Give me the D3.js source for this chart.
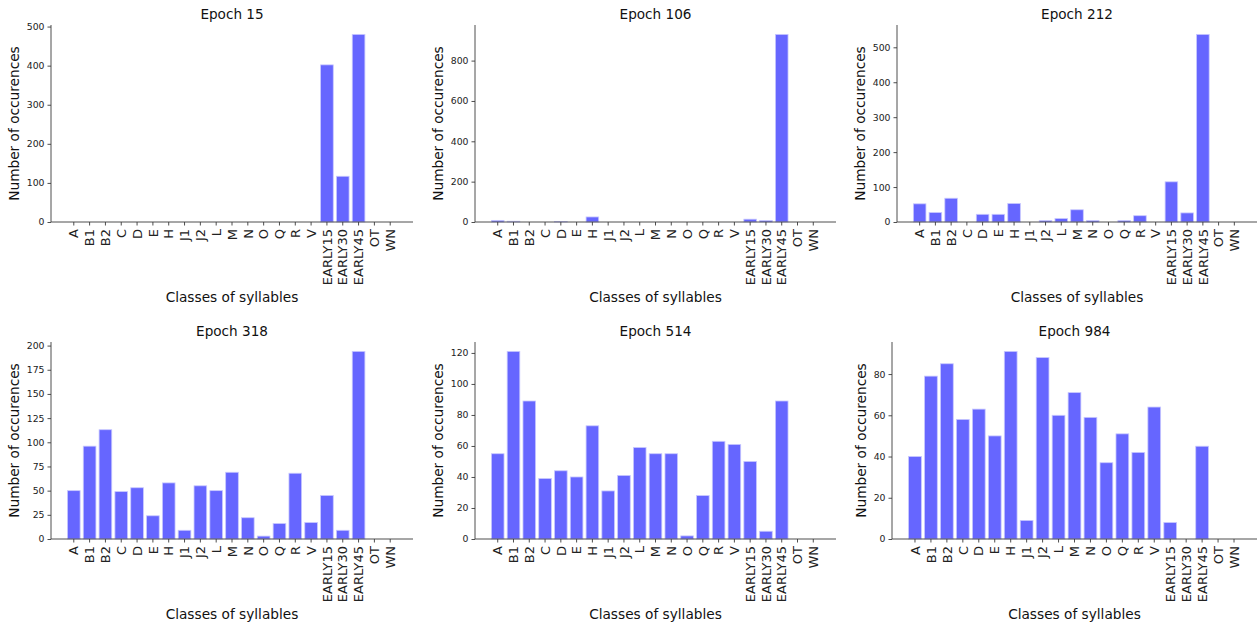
<!DOCTYPE html>
<html>
<head>
<meta charset="utf-8">
<script src="https://cdn.jsdelivr.net/npm/d3@7"></script>
<style>
  html, body { margin: 0; padding: 0; background: #fff; }
  svg { display: block; font-family: "DejaVu Sans", sans-serif; }
</style>
</head>
<body>
<svg id="chart" width="1257" height="624"></svg>
<script>
// Syllable classes shown on every panel's x axis
const classes = ["A", "B1", "B2", "C", "D", "E", "H", "J1", "J2", "L", "M", "N", "O", "Q", "R", "V",
                 "EARLY15", "EARLY30", "EARLY45", "OT", "WN"];

// Occurrence counts per class, one array per training epoch
const epoch15  = [0, 0, 0, 0, 0, 0, 0, 0, 0, 0, 0, 0, 0, 0, 0, 0, 402, 117, 480, 0, 0];
const epoch106 = [8, 4, 0, 0, 3, 0, 25, 0, 0, 0, 0, 0, 0, 0, 0, 0, 14, 7, 930, 0, 0];
const epoch212 = [52, 27, 68, 0, 22, 22, 53, 0, 4, 10, 35, 4, 0, 4, 18, 0, 115, 26, 537, 0, 0];
const epoch318 = [50, 96, 113, 49, 53, 24, 58, 9, 55, 50, 69, 22, 3, 16, 68, 17, 45, 9, 194, 0, 0];
const epoch514 = [55, 121, 89, 39, 44, 40, 73, 31, 41, 59, 55, 55, 2, 28, 63, 61, 50, 5, 89, 0, 0];
const epoch984 = [40, 79, 85, 58, 63, 50, 91, 9, 88, 60, 71, 59, 37, 51, 42, 64, 8, 0, 45, 0, 0];

// Y tick values for each panel
const ticks15  = [0, 100, 200, 300, 400, 500];
const ticks106 = [0, 200, 400, 600, 800];
const ticks212 = [0, 100, 200, 300, 400, 500];
const ticks318 = [0, 25, 50, 75, 100, 125, 150, 175, 200];
const ticks514 = [0, 20, 40, 60, 80, 100, 120];
const ticks984 = [0, 20, 40, 60, 80];

const panelTitles = ["Epoch 15", "Epoch 106", "Epoch 212", "Epoch 318", "Epoch 514", "Epoch 984"];
const panelValues = [epoch15, epoch106, epoch212, epoch318, epoch514, epoch984];
const panelTicks  = [ticks15, ticks106, ticks212, ticks318, ticks514, ticks984];

// Plot-area frames (left, right, top, bottom) in the 3x2 grid
const frames = [
  [51, 413, 25, 222], [475, 836, 25, 222], [897, 1257, 25, 222],
  [51, 413, 342, 539], [475, 836, 342, 539], [892, 1257, 342, 539]
];

const svg = d3.select("#chart");
const barFill = "#6666ff";
const barEdge = "#c8c8ff";
const spine = "#3a3a3a";

panelValues.forEach((values, i) => {
  const [x0, x1, y0, y1] = frames[i];
  const g = svg.append("g");

  // band scale: bar width 0.8 of a step, outer margin as in a 5% padded data range
  const x = d3.scaleBand().domain(classes).range([x0, x1])
    .paddingInner(0.2).paddingOuter(1.04);
  const y = d3.scaleLinear().domain([0, d3.max(values) * 1.05]).range([y1, y0]);

  // bars
  g.selectAll("rect.bar").data(values).join("rect")
    .attr("class", "bar")
    .attr("x", (d, k) => x(classes[k]))
    .attr("width", x.bandwidth())
    .attr("y", d => y(d))
    .attr("height", d => y1 - y(d))
    .attr("fill", barFill)
    .attr("stroke", d => d > 0 ? barEdge : "none")
    .attr("stroke-width", 0.8);

  // y axis
  const yAxis = g.append("g")
    .attr("transform", `translate(${x0},0)`)
    .call(d3.axisLeft(y).tickValues(panelTicks[i]).tickFormat(d3.format("d"))
      .tickSize(3.5).tickPadding(3));
  yAxis.select(".domain").attr("stroke", spine).attr("stroke-width", 0.9)
    .attr("d", `M0,${y1}V${y0}`);
  yAxis.selectAll(".tick line").attr("stroke", spine).attr("stroke-width", 0.9);
  yAxis.selectAll(".tick text").attr("fill", "#222").style("font-size", "9.3px")
    .style("font-family", "DejaVu Sans");

  // x axis with vertical class labels
  const xAxis = g.append("g")
    .attr("transform", `translate(0,${y1})`)
    .call(d3.axisBottom(x).tickSize(3.5).tickPadding(3.5));
  xAxis.select(".domain").attr("stroke", spine).attr("stroke-width", 0.9)
    .attr("d", `M${x0},0H${x1}`);
  xAxis.selectAll(".tick line").attr("stroke", spine).attr("stroke-width", 0.9);
  xAxis.selectAll(".tick text")
    .attr("fill", "#222")
    .style("font-size", "13px")
    .style("font-family", "DejaVu Sans")
    .attr("text-anchor", "end")
    .attr("transform", "rotate(-90)")
    .attr("x", -7)
    .attr("y", 0)
    .attr("dy", "0.36em");

  // title
  g.append("text")
    .attr("x", (x0 + x1) / 2).attr("y", y0 - 6)
    .attr("text-anchor", "middle")
    .style("font-size", "13.6px").attr("fill", "#111")
    .text(panelTitles[i]);

  // x axis title
  g.append("text")
    .attr("x", (x0 + x1) / 2).attr("y", y1 + 80)
    .attr("text-anchor", "middle")
    .style("font-size", "13.7px").attr("fill", "#111")
    .text("Classes of syllables");

  // y axis title, placed just left of the tick labels (bbox is in the axis group's frame)
  const bb = yAxis.node().getBBox();
  g.append("text")
    .attr("transform", `translate(${x0 + bb.x - 8},${(y0 + y1) / 2}) rotate(-90)`)
    .attr("text-anchor", "middle")
    .style("font-size", "13.7px").attr("fill", "#111")
    .text("Number of occurences");
});
</script>
</body>
</html>
